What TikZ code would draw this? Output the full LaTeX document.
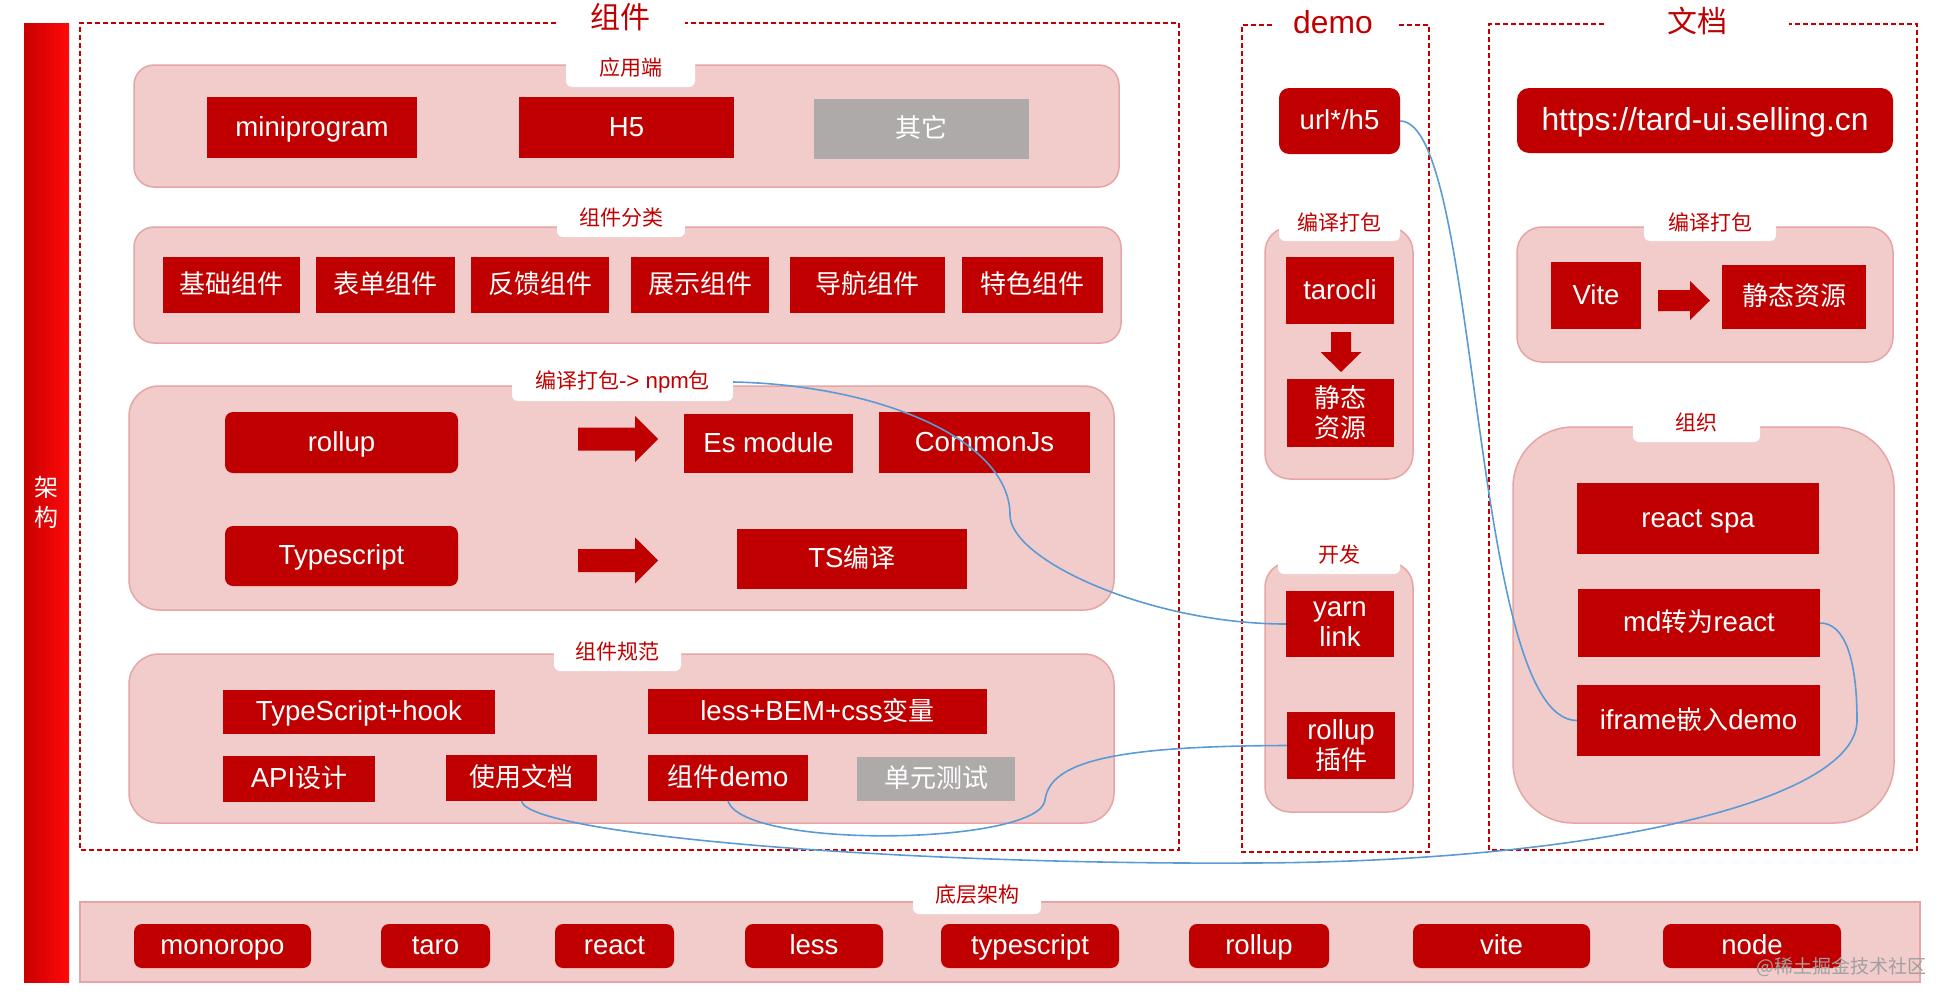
\documentclass[tikz,border=0pt]{standalone}
\usepackage{fontspec}
\setmainfont{Liberation Sans}[Scale=1.06]
\newfontfamily\cjk{Noto Sans CJK SC}
\newcommand{\zh}[1]{{\cjk #1}}
\definecolor{boxred}{HTML}{C00000}
\definecolor{titlered}{HTML}{C00000}
\definecolor{boxgrey}{HTML}{AEAAAA}
\definecolor{panelpink}{HTML}{F2CBCB}
\definecolor{panelline}{HTML}{E6A5A5}
\definecolor{linkblue}{HTML}{5B9BD5}
\definecolor{bardark}{HTML}{C80000}
\definecolor{barred}{HTML}{FF0A0A}
\definecolor{markgrey}{HTML}{A0A0A0}
\tikzset{
    wh/.style 2 args={minimum width=#1, minimum height=#2},
    box/.style={fill=boxred, text=white, inner sep=0pt, align=center,
        text height=23pt, text depth=6pt, font=\fontsize{26}{30}\selectfont},
    two lines/.style={text height=, text depth=},
    grey box/.style={box, fill=boxgrey},
    pill/.style={box, rounded corners=8pt},
    panel/.style={fill=panelpink, draw=panelline, line width=1.5pt, rounded corners=#1},
    panel/.default=20pt,
    tab/.style={fill=white, rounded corners=6pt, text=titlered, inner sep=0pt,
        font=\fontsize{21}{24}\selectfont},
    frame/.style={draw=titlered, line width=2pt, dash pattern=on 5pt off 3pt},
    title/.style={text=titlered, font=\fontsize{30}{34}\selectfont},
    link/.style={draw=linkblue, line width=1.6pt},
}

\begin{document}
\begin{tikzpicture}[x=1pt, y=-1pt]
    \useasboundingbox (0,0) rectangle (1956,1004);

    \node[left color=bardark, right color=barred, wh={45}{959}] (bar) at (46.5,502.5) {};
    \node[text=white, align=center, font=\fontsize{24}{30}\selectfont] (bar-text)
        at (bar.center) {\zh{架}\\\zh{构}};

    \draw[frame] (556,23) -| (80,850) -| (1179,23) -- (685,23);
    \node[title] (t-comp) at (620,17) {\zh{组件}};
    \draw[frame] (1272,25) -| (1242,852) -| (1429,25) -- (1397,25);
    \node[title] (t-demo) at (1333,22) {demo};
    \draw[frame] (1604,24) -| (1489,850) -| (1917,24) -- (1789,24);
    \node[title] (t-doc) at (1697,21) {\zh{文档}};

    \node[panel, wh={985}{122}] (p-app) at (626.5,126) {};
    \node[tab, wh={129}{38}] (tab-app) at (630.5,68) {\zh{应用端}};
    \node[box, wh={210}{61}] (mini) at (312,127.5) {miniprogram};
    \node[box, wh={215}{61}] (h5) at (626.5,127.5) {H5};
    \node[grey box, wh={215}{60}] (other) at (921.5,129) {\zh{其它}};

    \node[panel, wh={987}{116}] (p-kind) at (627.5,285) {};
    \node[tab, wh={128}{38}] (tab-kind) at (621,218) {\zh{组件分类}};
    \node[box, wh={137}{56}] (basic) at (231.5,285) {\zh{基础组件}};
    \node[box, wh={139}{56}] (form) at (385.5,285) {\zh{表单组件}};
    \node[box, wh={138}{56}] (feedback) at (540,285) {\zh{反馈组件}};
    \node[box, wh={138}{56}] (show) at (700,285) {\zh{展示组件}};
    \node[box, wh={155}{56}] (nav) at (867.5,285) {\zh{导航组件}};
    \node[box, wh={141}{56}] (special) at (1032.5,285) {\zh{特色组件}};

    \node[panel=30pt, wh={985}{224}] (p-npm) at (621.5,498) {};
    \node[tab, wh={221}{38}] (tab-npm) at (622.5,382) {\zh{编译打包}-> npm\zh{包}};
    \node[pill, wh={233}{61}] (rollup) at (341.5,442.5) {rollup};
    \node[pill, wh={233}{60}] (ts) at (341.5,556) {Typescript};
    \foreach \y in {439,560.5}
        \fill[boxred] (578,\y-11.5) -- ++(57,0) -- ++(0,-11.5) -- ++(23,23)
            -- ++(-23,23) -- ++(0,-11.5) -- ++(-57,0) -- cycle;
    \node[box, wh={169}{59}] (esm) at (768.5,443.5) {Es module};
    \node[box, wh={211}{61}] (cjs) at (984.5,442.5) {CommonJs};
    \node[box, wh={230}{60}] (tsc) at (852,559) {TS\zh{编译}};

    \node[panel=30pt, wh={985}{169}] (p-rule) at (621.5,738.5) {};
    \node[tab, wh={127}{38}] (tab-rule) at (617.5,652) {\zh{组件规范}};
    \node[box, wh={272}{44}] (hook) at (359,712) {TypeScript+hook};
    \node[box, wh={152}{46}] (api) at (299,779) {API\zh{设计}};
    \node[box, wh={151}{46}] (usedoc) at (521.5,778) {\zh{使用文档}};
    \node[box, wh={339}{45}] (bem) at (817.5,711.5) {less+BEM+css\zh{变量}};
    \node[box, wh={160}{46}] (cdemo) at (728,778) {\zh{组件}demo};
    \node[grey box, wh={158}{44}] (unit) at (936,779) {\zh{单元测试}};

    \node[pill, rounded corners=10pt, wh={121}{66}] (url) at (1339.5,121) {url*/h5};
    \node[panel=25pt, wh={148}{252}] (p-dbuild) at (1339,353) {};
    \node[tab, wh={121}{38}] (tab-dbuild) at (1339.5,222) {\zh{编译打包}};
    \node[box, wh={108}{67}] (tarocli) at (1340,290.5) {tarocli};
    \fill[boxred] (1331,332) -- ++(20,0) -- ++(0,20) -- ++(10.5,0) -- (1341,372)
        -- (1320.5,352) -- (1331,352) -- cycle;
    \node[box, two lines, wh={107}{68}] (dstatic) at (1340.5,413) {\zh{静态}\\\zh{资源}};
    \node[panel=25pt, wh={148}{250}] (p-dev) at (1339,687) {};
    \node[tab, wh={122}{38}] (tab-dev) at (1339,555) {\zh{开发}};
    \node[box, two lines, wh={108}{66}] (yarn) at (1340,624) {yarn\\link};
    \node[box, two lines, wh={108}{67}] (plugin) at (1341,745.5) {rollup\\\zh{插件}};

    \node[pill, rounded corners=12pt, wh={376}{65}, text height=26pt, text depth=7pt,
          font=\fontsize{30}{34}\selectfont] (site) at (1705,120.5) {https://tard-ui.selling.cn};
    \node[panel=25pt, wh={376}{135}] (p-vbuild) at (1705,294.5) {};
    \node[tab, wh={132}{38}] (tab-vbuild) at (1710,222) {\zh{编译打包}};
    \node[box, wh={90}{67}] (vite) at (1596,295.5) {Vite};
    \fill[boxred] (1658,290) -- ++(32,0) -- ++(0,-9) -- (1710,300.5) -- (1690,320)
        -- ++(0,-9) -- (1658,311) -- cycle;
    \node[box, wh={144}{64}] (vstatic) at (1794,297) {\zh{静态资源}};
    \node[panel=60pt, wh={381}{396}] (p-org) at (1703.5,625) {};
    \node[tab, wh={127}{38}] (tab-org) at (1696.5,423) {\zh{组织}};
    \node[box, wh={242}{71}] (spa) at (1698,518.5) {react spa};
    \node[box, wh={242}{68}] (md) at (1699,623) {md\zh{转为}react};
    \node[box, wh={243}{71}] (iframe) at (1698.5,720.5) {iframe\zh{嵌入}demo};

    \node[panel, sharp corners, wh={1840}{80}] (p-base) at (1000,942) {};
    \node[tab, wh={128}{38}] (tab-base) at (977,895) {\zh{底层架构}};
    \foreach \name/\x/\w in {monoropo/222.5/177, taro/435.5/109, react/614.5/119,
            less/814/138, typescript/1030/178, rollup/1259/140, vite/1501.5/177, node/1752/178}
        \node[pill, wh={\w}{44}] (b-\name) at (\x,946) {\name};
    \node[text=markgrey, anchor=east, font=\fontsize{19}{21}\selectfont] (mark)
        at (1930,967) {\zh{@稀土掘金技术社区}};

    \draw[link] (tab-npm.east) .. controls (880,385) and (1010,440) .. (1010,515)
        .. controls (1010,560) and (1150,624) .. (yarn.west);
    \draw[link] (url.east) .. controls (1480,121) and (1470,720) .. (iframe.west);
    \draw[link] (plugin.west) .. controls (1120,746) and (1050,760) .. (1045,800)
        .. controls (1040,845) and (745,850) .. (cdemo.south);
    \draw[link] (usedoc.south) .. controls (530,835) and (900,865) .. (1250,863)
        .. controls (1600,862) and (1858,800) .. (1857,720)
        .. controls (1857,660) and (1845,623) .. (md.east);
\end{tikzpicture}
\end{document}
